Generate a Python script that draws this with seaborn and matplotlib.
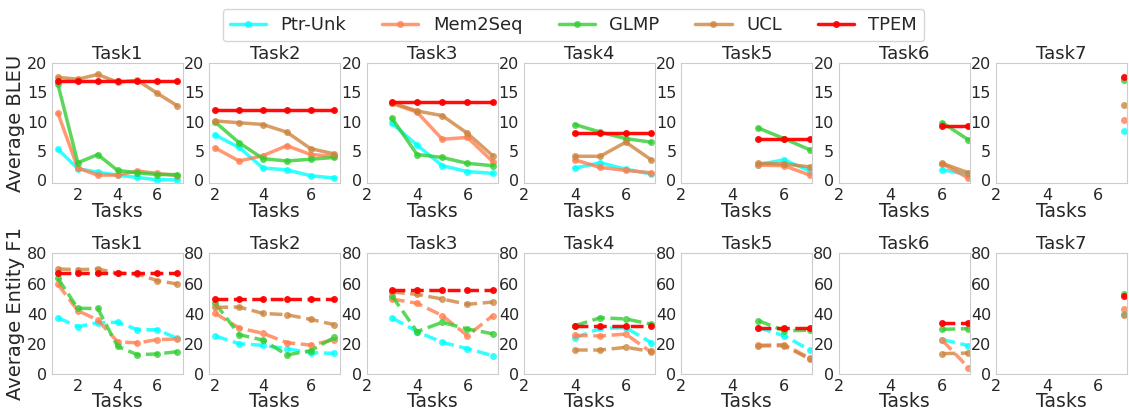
import numpy as np
import pandas as pd
import matplotlib
matplotlib.use("Agg")
import matplotlib.pyplot as plt
import seaborn as sns

MODELS = ["Ptr-Unk", "Mem2Seq", "GLMP", "UCL", "TPEM"]
COLORS = ["#00FFFF", "#FF7F50", "#32CD32", "#CD853F", "#FF0000"]
TASK_TITLES = ["Task1", "Task2", "Task3", "Task4", "Task5", "Task6", "Task7"]

# BLEU: row k = values after training task k (k..7)
BLEU_PTR = [[5.3, 2.0, 1.4, 0.9, 0.5, 0.1, 0.1], [7.7, 5.6, 2.1, 1.8, 0.8, 0.4],
            [9.7, 6.0, 2.5, 1.5, 1.2], [2.1, 3.0, 1.9, 1.1], [2.7, 3.5, 1.6], [1.8, 1.0], [8.4]]
BLEU_MEM = [[11.4, 2.1, 0.9, 0.9, 1.6, 1.2, 0.8], [5.5, 3.3, 4.2, 5.9, 4.4, 4.1],
            [13.1, 11.6, 7.0, 7.3, 3.2], [3.5, 2.2, 1.7, 1.3], [2.6, 2.5, 0.9], [2.8, 0.4], [10.2]]
BLEU_GLMP = [[16.3, 3.0, 4.4, 1.7, 1.3, 1.0, 1.0], [9.9, 6.4, 3.7, 3.3, 3.6, 3.9],
             [10.6, 4.4, 3.9, 2.9, 2.5], [9.5, 8.2, 7.1, 6.5], [8.9, 7.1, 5.2], [9.8, 6.9], [17.1]]
BLEU_UCL = [[17.5, 17.2, 18.0, 16.7, 17.0, 14.8, 12.7], [10.1, 9.8, 9.5, 8.2, 5.4, 4.5],
            [13.2, 11.8, 11.0, 8.0, 4.2], [4.1, 4.1, 6.5, 3.5], [2.9, 2.8, 2.3], [2.9, 1.3], [12.8]]
BLEU_TPEM = [[16.9] * 7, [12.0] * 6, [13.4] * 5, [8.0] * 4, [7.1] * 3, [9.3] * 2, [17.6]]

F1_PTR = [[37.3, 31.4, 34.0, 34.3, 29.4, 29.4, 23.6], [25.2, 20.1, 19.0, 16.8, 14.1, 13.7],
          [37.3, 28.1, 21.0, 16.8, 12.2], [23.9, 30.3, 30.7, 20.8], [30.7, 25.4, 15.9], [22.8, 18.8], [39.8]]
F1_MEM = [[59.4, 42.0, 35.8, 21.4, 20.6, 22.8, 23.2], [40.2, 30.5, 27.0, 20.8, 19.2, 22.8],
          [49.7, 46.9, 38.7, 25.4, 38.7], [25.6, 25.2, 26.5, 14.4], [19.0, 19.5, 10.5], [22.3, 4.2], [43.1]]
F1_GLMP = [[63.4, 43.5, 43.5, 18.3, 12.8, 13.3, 14.8], [46.9, 26.1, 22.5, 12.6, 15.5, 24.3],
           [51.9, 28.1, 34.3, 29.8, 26.7], [32.0, 37.3, 36.5, 33.0], [35.4, 28.7, 29.0], [29.6, 30.1], [52.8]]
F1_UCL = [[69.6, 69.2, 69.6, 66.9, 66.3, 61.9, 59.7], [44.2, 44.4, 40.2, 39.3, 36.2, 32.7],
          [54.4, 52.8, 49.7, 46.2, 47.7], [15.9, 15.9, 17.7, 15.0], [18.6, 18.8, 9.9], [13.5, 13.9], [39.3]]
F1_TPEM = [[67.2] * 7, [49.5] * 6, [55.5] * 5, [31.6] * 4, [30.7] * 3, [33.6] * 2, [51.7]]

BLEU = [BLEU_PTR, BLEU_MEM, BLEU_GLMP, BLEU_UCL, BLEU_TPEM]
F1 = [F1_PTR, F1_MEM, F1_GLMP, F1_UCL, F1_TPEM]

sns.set_style("white", {"axes.edgecolor": ".8", "axes.grid": False,
                        "xtick.bottom": False, "ytick.left": False})
plt.rcParams["font.family"] = ["Liberation Sans Narrow", "DejaVu Sans"]

fig, axes = plt.subplots(2, 7, figsize=(11.29, 4.16), dpi=100)
fig.subplots_adjust(left=52 / 1129, right=1127 / 1129, top=1 - 62.7 / 416,
                    bottom=1 - 374 / 416, wspace=0.2, hspace=0.58)

rows = [(BLEU, "-", (-0.5, 20), [0, 5, 10, 15, 20], "Average BLEU"),
        (F1, "--", (0, 80), [0, 20, 40, 60, 80], "Average Entity F1")]

for r, (metric, ls, ylim, yticks, ylab) in enumerate(rows):
    for t in range(7):
        ax = axes[r, t]
        xs = list(range(t + 1, 8))
        for m, name in enumerate(MODELS):
            df = pd.DataFrame({"x": xs, "y": metric[m][t]})
            sns.lineplot(data=df, x="x", y="y", ax=ax, color=COLORS[m], marker="o",
                         markersize=5, markeredgewidth=0, linewidth=2.5, linestyle=ls,
                         alpha=0.8 if name != "TPEM" else 0.95,
                         label=name if (r == 0 and t == 0) else None, legend=False)
        if t >= 2:
            ax.set_xlim(left=2)
        if t == 6:
            ax.set_xlim(2, 7.12)
        ax.set_ylim(*ylim)
        ax.set_yticks(yticks)
        ax.set_xticks([2, 4, 6])
        ax.tick_params(axis="both", labelsize=11.5, pad=0)
        ax.set_title(TASK_TITLES[t], fontsize=13, pad=3)
        ax.set_xlabel("Tasks", fontsize=13.5, labelpad=-1)
        ax.set_ylabel(ylab if t == 0 else "", fontsize=14, labelpad=1)

handles, labels = axes[0, 0].get_legend_handles_labels()
fig.legend(handles, labels, loc="upper center", bbox_to_anchor=(0.508, 1.0), ncol=5,
           fontsize=13, frameon=True, handlelength=2, columnspacing=2.0,
           borderpad=0.4)

fig.savefig("out.png", dpi=100)
